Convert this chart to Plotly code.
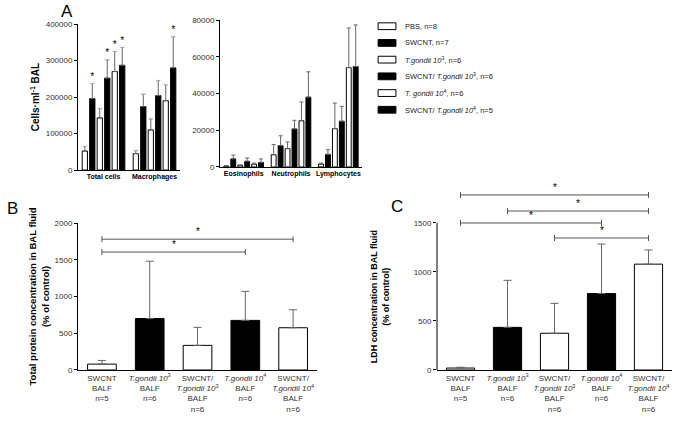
import plotly.graph_objects as go

# ---- Panel A data ----
series_names = [
    "PBS, n=8",
    "SWCNT, n=7",
    "<i>T.gondii 10</i><sup>3</sup>, n=6",
    "SWCNT/ <i>T.gondii 10</i><sup>3</sup>, n=6",
    "<i>T. gondii 10</i><sup>4</sup>, n=6",
    "SWCNT/ <i>T.gondii 10</i><sup>4</sup>, n=5",
]
series_colors = ["white", "black", "white", "black", "white", "black"]

cats_left = ["Total cells", "Macrophages"]
means_left = [
    [52000, 45000],
    [196000, 174000],
    [143000, 110000],
    [252000, 204000],
    [270000, 190000],
    [287000, 280000],
]
sd_left = [
    [12000, 8000],
    [41000, 34000],
    [25000, 30000],
    [50000, 41000],
    [55000, 43000],
    [49000, 85000],
]
stars_left = [
    ["", ""],
    ["*", ""],
    ["", ""],
    ["*", ""],
    ["*", ""],
    ["*", "*"],
]

cats_right = ["Eosinophils", "Neutrophils", "Lymphocytes"]
means_right = [
    [500, 6700, 1600],
    [4400, 11600, 6900],
    [900, 10000, 20900],
    [3100, 20700, 24900],
    [1500, 25200, 54100],
    [2500, 38000, 54700],
]
sd_right = [
    [300, 5500, 500],
    [2100, 5400, 2500],
    [300, 3600, 13900],
    [1800, 4700, 8100],
    [600, 10200, 21600],
    [1900, 13800, 22600],
]

# ---- Panels B and C data ----
groups_bc = ["SWCNT BALF", "Tg3 BALF", "SWCNT/Tg3 BALF", "Tg4 BALF", "SWCNT/Tg4 BALF"]
group_labels = [
    "SWCNT<br>BALF<br>n=5",
    "<i>T.gondii 10</i><sup>3</sup><br>BALF<br>n=6",
    "SWCNT/<br><i>T.gondii 10</i><sup>3</sup><br>BALF<br>n=6",
    "<i>T.gondii 10</i><sup>4</sup><br>BALF<br>n=6",
    "SWCNT/<br><i>T.gondii 10</i><sup>4</sup><br>BALF<br>n=6",
]
group_colors = ["white", "black", "white", "black", "white"]

protein_mean = [80, 700, 335, 675, 575]
protein_sd = [50, 780, 245, 395, 245]
protein_sig = [(0, 4, 1780), (0, 3, 1605)]

ldh_mean = [20, 435, 375, 780, 1080]
ldh_sd = [8, 480, 305, 505, 145]
ldh_sig = [(0, 4, 1786), (1, 4, 1622), (0, 3, 1500), (2, 4, 1347)]

FONT = "Liberation Sans, Arial, sans-serif"

fig = go.Figure()

# panel A bars
for i in range(6):
    for xa, ya, cats, m, s in [("x", "y", cats_left, means_left, sd_left),
                               ("x2", "y2", cats_right, means_right, sd_right)]:
        fig.add_trace(go.Bar(
            x=cats, y=m[i], xaxis=xa, yaxis=ya, name=series_names[i],
            offsetgroup=str(i), showlegend=False,
            marker=dict(color=series_colors[i], line=dict(color="black", width=1)),
            error_y=dict(type="data", symmetric=False, array=s[i],
                         arrayminus=[0] * len(cats), color="#666", thickness=1, width=2),
        ))
    # stars above error bars (invisible bars carrying the text)
    tops = [m + s for m, s in zip(means_left[i], sd_left[i])]
    fig.add_trace(go.Bar(
        x=cats_left, y=[5000] * 2, base=tops, xaxis="x", yaxis="y",
        offsetgroup=str(i), showlegend=False, hoverinfo="skip",
        marker=dict(color="rgba(0,0,0,0)"),
        text=stars_left[i], textposition="outside", cliponaxis=False,
        textfont=dict(size=10, color="black"),
    ))

# panels B and C
for xa, ya, m, s in [("x3", "y3", protein_mean, protein_sd),
                     ("x4", "y4", ldh_mean, ldh_sd)]:
    fig.add_trace(go.Bar(
        x=groups_bc, y=m, xaxis=xa, yaxis=ya, width=0.6, showlegend=False,
        marker=dict(color=group_colors, line=dict(color="black", width=1)),
        error_y=dict(type="data", symmetric=False, array=s, arrayminus=[0] * 5,
                     color="#666", thickness=1, width=4),
    ))

shapes = []
annotations = []
for xr, yr, sig in [("x3", "y3", protein_sig), ("x4", "y4", ldh_sig)]:
    for a, b, lvl in sig:
        shapes.append(dict(type="line", xref=xr, yref=yr, x0=a, x1=b, y0=lvl, y1=lvl,
                           line=dict(color="#555", width=1)))
        for e in (a, b):
            shapes.append(dict(type="line", xref=xr, yref=yr, x0=e, x1=e,
                               ysizemode="pixel", yanchor=lvl, y0=-3, y1=3,
                               line=dict(color="#555", width=1)))
        annotations.append(dict(x=(a + b) / 2, y=lvl, xref=xr, yref=yr, text="*",
                                showarrow=False, yanchor="bottom",
                                font=dict(size=10, color="black")))

# panel C y axis line only up to 1500
shapes.append(dict(type="line", xref="x4 domain", yref="y4", x0=0, x1=0, y0=0, y1=1500,
                   line=dict(color="black", width=1)))

# panel C axis title, centred on the 0-1500 part of the axis
annotations.append(dict(text="<b>LDH concentration in BAL fluid<br>(% of control)</b>",
                        x=0.556, y=750, xref="paper", yref="y4", textangle=-90,
                        showarrow=False, xanchor="center", yanchor="middle",
                        font=dict(size=9, color="black")))

# legend drawn by hand: wide flat swatches like the original
leg_x0, leg_y0, leg_dy = 0.552, 0.938, 0.0395
for i, name in enumerate(series_names):
    yc = leg_y0 - i * leg_dy
    shapes.append(dict(type="rect", xref="paper", yref="paper",
                       x0=leg_x0, x1=leg_x0 + 0.026, y0=yc - 0.008, y1=yc + 0.008,
                       fillcolor=series_colors[i], line=dict(color="black", width=1)))
    annotations.append(dict(text=name, x=leg_x0 + 0.037, y=yc, xref="paper", yref="paper",
                            showarrow=False, xanchor="left", yanchor="middle",
                            font=dict(size=7.5, color="#222")))

for txt, x, y in [("A", 0.086, 1.0), ("B", 0.008, 0.535), ("C", 0.568, 0.538)]:
    annotations.append(dict(text=txt, x=x, y=y, xref="paper", yref="paper",
                            showarrow=False, xanchor="left", yanchor="top",
                            font=dict(size=17, color="black")))

tickfont = dict(size=8, color="#333")
ax_common = dict(showline=True, linecolor="black", linewidth=1, ticks="", showgrid=False,
                 zeroline=False, automargin=False)
ay_common = dict(showline=True, linecolor="black", linewidth=1, ticks="outside", ticklen=3,
                 tickcolor="black", showgrid=False, zeroline=False, tickfont=tickfont,
                 tickformat="d", automargin=False)

fig.update_layout(
    width=685, height=423,
    margin=dict(l=0, r=0, t=0, b=0, autoexpand=False),
    paper_bgcolor="white", plot_bgcolor="white",
    font=dict(family=FONT, color="black"),
    barmode="group", bargap=0.12, bargroupgap=0.3,
    showlegend=False,
    xaxis=dict(domain=[0.1139, 0.2628], anchor="y", tickfont=dict(size=7, color="black"),
               tickvals=cats_left, ticktext=["<b>" + c + "</b>" for c in cats_left],
               **ax_common),
    yaxis=dict(domain=[0.598, 0.943], anchor="x", range=[0, 400000], dtick=100000,
               title=dict(text="<b>Cells·ml<sup>-1</sup> BAL</b>", font=dict(size=10),
                          standoff=4),
               **ay_common),
    xaxis2=dict(domain=[0.3212, 0.5285], anchor="y2", tickfont=dict(size=7, color="black"),
                tickvals=cats_right, ticktext=["<b>" + c + "</b>" for c in cats_right],
                **ax_common),
    yaxis2=dict(domain=[0.6052, 0.9527], anchor="x2", range=[0, 80000], dtick=20000,
                **ay_common),
    xaxis3=dict(domain=[0.1139, 0.4628], anchor="y3", tickfont=tickfont,
                tickvals=groups_bc, ticktext=group_labels, **ax_common),
    yaxis3=dict(domain=[0.1253, 0.4728], anchor="x3", range=[0, 2000], dtick=500,
                title=dict(text="<b>Total protein concentration in BAL fluid<br>(% of control)</b>",
                           font=dict(size=9.5), standoff=3),
                **ay_common),
    xaxis4=dict(domain=[0.638, 0.981], anchor="y4", tickfont=tickfont,
                tickvals=groups_bc, ticktext=group_labels, **ax_common),
    yaxis4=dict(domain=[0.1253, 0.5655], anchor="x4", range=[0, 1900],
                tickvals=[0, 500, 1000, 1500],
                **{**ay_common, "showline": False}),
    shapes=shapes,
    annotations=annotations,
)

fig.write_html("out.html", config={"displayModeBar": False},
               post_script="document.body.style.margin='0';")
